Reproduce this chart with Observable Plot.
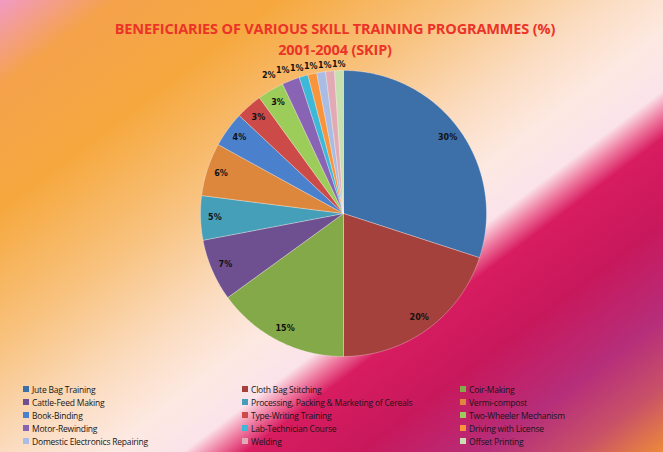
<!DOCTYPE html>
<html><head><meta charset="utf-8">
<script src="https://cdn.jsdelivr.net/npm/d3@7"></script>
<script src="https://cdn.jsdelivr.net/npm/@observablehq/plot@0.6"></script>
<style>
html,body{margin:0;padding:0;background:#fff;}
#chart{position:relative;width:663px;height:452px;overflow:hidden;
  background:linear-gradient(143deg,#f29ac4 0%,#f5a24c 9%,#f6a83e 22%,#f8c27e 36%,#fbdcc0 48%,#fde9e2 56%,#fbe3ea 62%,#ee7aa0 64.5%,#d81c60 67%,#c8185c 76%,#b62e7a 86%,#c85068 93%,#ec8a3a 100%);}
#title{height:60px;box-sizing:border-box;padding-top:18px;padding-left:7px;text-align:center;
  font-family:"Open Sans",sans-serif;font-weight:bold;font-size:14.5px;line-height:21px;color:#ec3328;letter-spacing:-0.15px;}
#plot svg{display:block;}
#legend{height:77px;box-sizing:border-box;padding-top:8px;padding-left:23px;display:grid;
  grid-template-columns:219px 218px 200px;grid-auto-rows:12.9px;
  font-family:"Open Sans",sans-serif;font-size:8.5px;color:#161616;letter-spacing:-0.2px;}
.item{display:flex;align-items:center;white-space:nowrap;}
.sw{width:6px;height:6px;margin-right:3px;flex:none;}
</style></head>
<body>
<div id="chart">
  <div id="title">BENEFICIARIES OF VARIOUS SKILL TRAINING PROGRAMMES (%)<br>2001-2004 (SKIP)</div>
  <div id="plot"></div>
  <div id="legend"></div>
</div>
<script>
const programmes = ["Jute Bag Training","Cloth Bag Stitching","Coir-Making","Cattle-Feed Making",
  "Processing, Packing & Marketing of Cereals","Vermi-compost","Book-Binding","Type-Writing Training",
  "Two-Wheeler Mechanism","Motor-Rewinding","Lab-Technician Course","Driving  with License",
  "Domestic Electronics Repairing","Welding","Offset Printing"];
const shares = [30,20,15,7,5,6,4,3,3,2,1,1,1,1,1];
const colors = ["#3d6fa9","#a5413c","#84a948","#6e4f8f","#469fb8","#dd873c","#4a80cc","#cc4a48",
  "#9ccc5a","#8a64b4","#3cb8d8","#f8943c","#a8bce4","#e2aab4","#c8e0b0"];

const pie = d3.pie().sort(null).value(d => d.v).startAngle(0).endAngle(2*Math.PI);
const arcs = pie(programmes.map((n,i)=>({n, v: shares[i]})));

// slice outlines (unit circle, angle clockwise from 12 o'clock)
const slicePts = [];
for (const a of arcs) {
  slicePts.push({name:a.data.n, x:0, y:0});
  const steps = Math.max(2, Math.ceil((a.endAngle - a.startAngle) / (Math.PI/360)));
  for (let k = 0; k <= steps; k++) {
    const t = a.startAngle + (a.endAngle - a.startAngle) * k / steps;
    slicePts.push({name:a.data.n, x:Math.sin(t), y:Math.cos(t)});
  }
  slicePts.push({name:a.data.n, x:0, y:0});
}

// labels: inside for larger slices, outside (pushed apart) for small ones
const R = 143;
const labelPts = arcs.map(a => {
  const m = (a.startAngle + a.endAngle) / 2;
  const r = a.data.v >= 3 ? 0.9 : 1.04;
  return {x: r*Math.sin(m), y: r*Math.cos(m), text: a.data.v + "%", out: a.data.v < 3};
});
const outs = labelPts.filter(d => d.out);
for (let i = outs.length - 2; i >= 0; i--) {
  outs[i].x = Math.min(outs[i].x, outs[i+1].x - 14 / R);
}

const chart = Plot.plot({
  width: 663, height: 315,
  marginLeft: 200, marginRight: 177, marginTop: 10, marginBottom: 19,
  x: {domain: [-1, 1], axis: null},
  y: {domain: [-1, 1], axis: null},
  color: {domain: programmes, range: colors},
  style: {background: "transparent", overflow: "visible"},
  marks: [
    Plot.line(slicePts, {x: "x", y: "y", z: "name", fill: "name", stroke: "#ffffff",
      strokeWidth: 0.6, strokeOpacity: 0.5, curve: "linear"}),
    Plot.text(labelPts, {x: "x", y: "y", text: "text", fontSize: 8, fontWeight: "bold",
      fill: "#111", fontFamily: "DejaVu Sans"})
  ]
});
document.getElementById("plot").appendChild(chart);

const legend = document.getElementById("legend");
programmes.forEach((n, i) => {
  const it = document.createElement("div");
  it.className = "item";
  const sw = document.createElement("span");
  sw.className = "sw";
  sw.style.background = colors[i];
  const tx = document.createElement("span");
  tx.textContent = n;
  it.appendChild(sw); it.appendChild(tx);
  legend.appendChild(it);
});
</script>
</body></html>
